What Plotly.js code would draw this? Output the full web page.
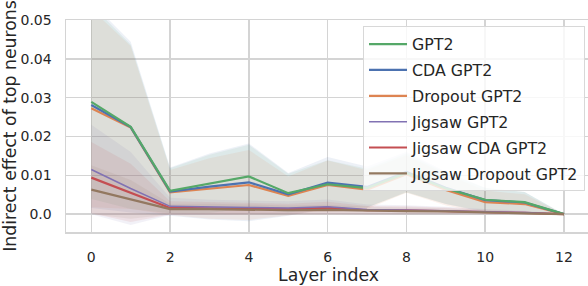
<!DOCTYPE html>
<html><head><meta charset="utf-8">
<script src="https://cdn.plot.ly/plotly-3.0.1.min.js"></script>
<style>html,body{margin:0;padding:0;overflow:hidden;background:#fff}</style>
</head><body><div id="chart" style="width:588px;height:286px"></div>
<script>
const layers = [0,1,2,3,4,5,6,7,8,9,10,11,12];
const seriesNames = ["GPT2","CDA GPT2","Dropout GPT2","Jigsaw GPT2","Jigsaw CDA GPT2","Jigsaw Dropout GPT2"];
const gpt2Mean        = [0.0289,0.0225,0.0060,0.0078,0.0097,0.0054,0.0077,0.0067,0.0106,0.0066,0.0037,0.0031,0.0];
const cdaMean         = [0.0281,0.0224,0.0058,0.0071,0.0082,0.0051,0.0081,0.0070,0.0109,0.0068,0.0036,0.0030,0.0];
const dropoutMean     = [0.0273,0.0223,0.0056,0.0066,0.0075,0.0047,0.0075,0.0063,0.0103,0.0062,0.0031,0.0026,0.0];
const jigsawMean      = [0.0115,0.0066,0.0020,0.0018,0.0017,0.0016,0.0019,0.0012,0.0011,0.0009,0.0006,0.0004,0.0];
const jigsawCdaMean   = [0.0094,0.0055,0.0016,0.0015,0.0014,0.0013,0.0016,0.0010,0.0010,0.0008,0.0005,0.0003,0.0];
const jigsawDropMean  = [0.0063,0.0038,0.0013,0.0013,0.0012,0.0010,0.0011,0.0009,0.0008,0.0007,0.0004,0.0002,0.0];
const gpt2Std         = [0.0250,0.0212,0.0058,0.0075,0.0082,0.0050,0.0062,0.0050,0.0050,0.0040,0.0030,0.0026,0.0];
const cdaStd          = [0.0265,0.0220,0.0062,0.0085,0.0100,0.0055,0.0066,0.0053,0.0052,0.0042,0.0032,0.0027,0.0];
const dropoutStd      = [0.0255,0.0210,0.0058,0.0078,0.0090,0.0050,0.0063,0.0050,0.0048,0.0040,0.0030,0.0025,0.0];
const jigsawStd       = [0.0115,0.0094,0.0022,0.0019,0.0018,0.0017,0.0019,0.0013,0.0012,0.0010,0.0007,0.0005,0.0];
const jigsawCdaStd    = [0.0092,0.0075,0.0017,0.0016,0.0015,0.0014,0.0016,0.0011,0.0010,0.0009,0.0006,0.0004,0.0];
const jigsawDropStd   = [0.0063,0.0050,0.0014,0.0014,0.0013,0.0012,0.0013,0.0010,0.0009,0.0008,0.0005,0.0003,0.0];
const xTicks = [0,2,4,6,8,10,12];
const yTickVals = [0,0.01,0.02,0.03,0.04,0.05];
const yTickText = ["0.0","0.01","0.02","0.03","0.04","0.05"];
const xTitle = "Layer index";
const yTitle = "Indirect effect of top neurons";

const means = [gpt2Mean,cdaMean,dropoutMean,jigsawMean,jigsawCdaMean,jigsawDropMean];
const stds  = [gpt2Std,cdaStd,dropoutStd,jigsawStd,jigsawCdaStd,jigsawDropStd];
const colors = ["#55A868","#4C72B0","#DD8452","#8172B3","#C44E52","#937860"];
const rgb = ["85,168,104","76,114,176","221,132,82","129,114,179","196,78,82","147,120,96"];
const widths = [2.2,2.2,2.2,1.5,2.2,2.2];
const bandOrder = [0,1,2,3,4,5];
const lineOrder = [2,1,0,4,3,5];

const traces = [];
bandOrder.forEach(i => {
  const up = means[i].map((m,k)=>m+stds[i][k]);
  const lo = means[i].map((m,k)=>m-stds[i][k]);
  traces.push({x:layers,y:up,type:"scatter",mode:"lines",line:{width:0,color:colors[i]},showlegend:false,hoverinfo:"skip"});
  traces.push({x:layers,y:lo,type:"scatter",mode:"lines",line:{width:0,color:colors[i]},fill:"tonexty",fillcolor:"rgba("+rgb[i]+",0.1)",showlegend:false,hoverinfo:"skip"});
});
lineOrder.forEach(i => {
  traces.push({x:layers,y:means[i],type:"scatter",mode:"lines",name:seriesNames[i],
    line:{color:colors[i],width:widths[i]},legendgroup:"g"+i,legendrank:i+1});
});

const layout = {
  width:588,height:286,
  margin:{l:66,r:0,t:20,b:54},
  paper_bgcolor:"#fff",plot_bgcolor:"#fff",
  font:{family:"DejaVu Sans",color:"#262626"},
  showlegend:true,
  xaxis:{range:[-0.642,12.609],tickvals:xTicks,ticktext:xTicks.map(String),
    showgrid:true,gridcolor:"#d4d4d4",gridwidth:1.5,zeroline:false,
    showline:true,linecolor:"#d4d4d4",linewidth:1.5,mirror:true,ticks:"",
    tickfont:{size:14,color:"#262626"},ticklabelstandoff:12},
  yaxis:{range:[-0.0046,0.05],tickvals:yTickVals,ticktext:yTickText,
    showgrid:true,gridcolor:"#d4d4d4",gridwidth:1.5,zeroline:false,
    showline:true,linecolor:"#d4d4d4",linewidth:1.5,ticks:"",
    tickfont:{size:14,color:"#262626"},ticklabelstandoff:10,
    title:{text:yTitle,font:{size:17.3,color:"#262626"},standoff:8}},
  annotations:[{text:xTitle,xref:"paper",yref:"paper",x:0.502,y:-0.205,xanchor:"center",yanchor:"middle",
    showarrow:false,font:{size:17.3,color:"#262626"}}],
  legend:{x:0.569,y:0.97,xanchor:"left",yanchor:"top",bgcolor:"rgba(255,255,255,0.8)",
    bordercolor:"#d8d8d8",borderwidth:1,font:{size:15.8,color:"#262626"},
    traceorder:"grouped",tracegroupgap:2.3,itemwidth:38}
};
Plotly.newPlot("chart",traces,layout,{staticPlot:true,displayModeBar:false});
</script></body></html>
